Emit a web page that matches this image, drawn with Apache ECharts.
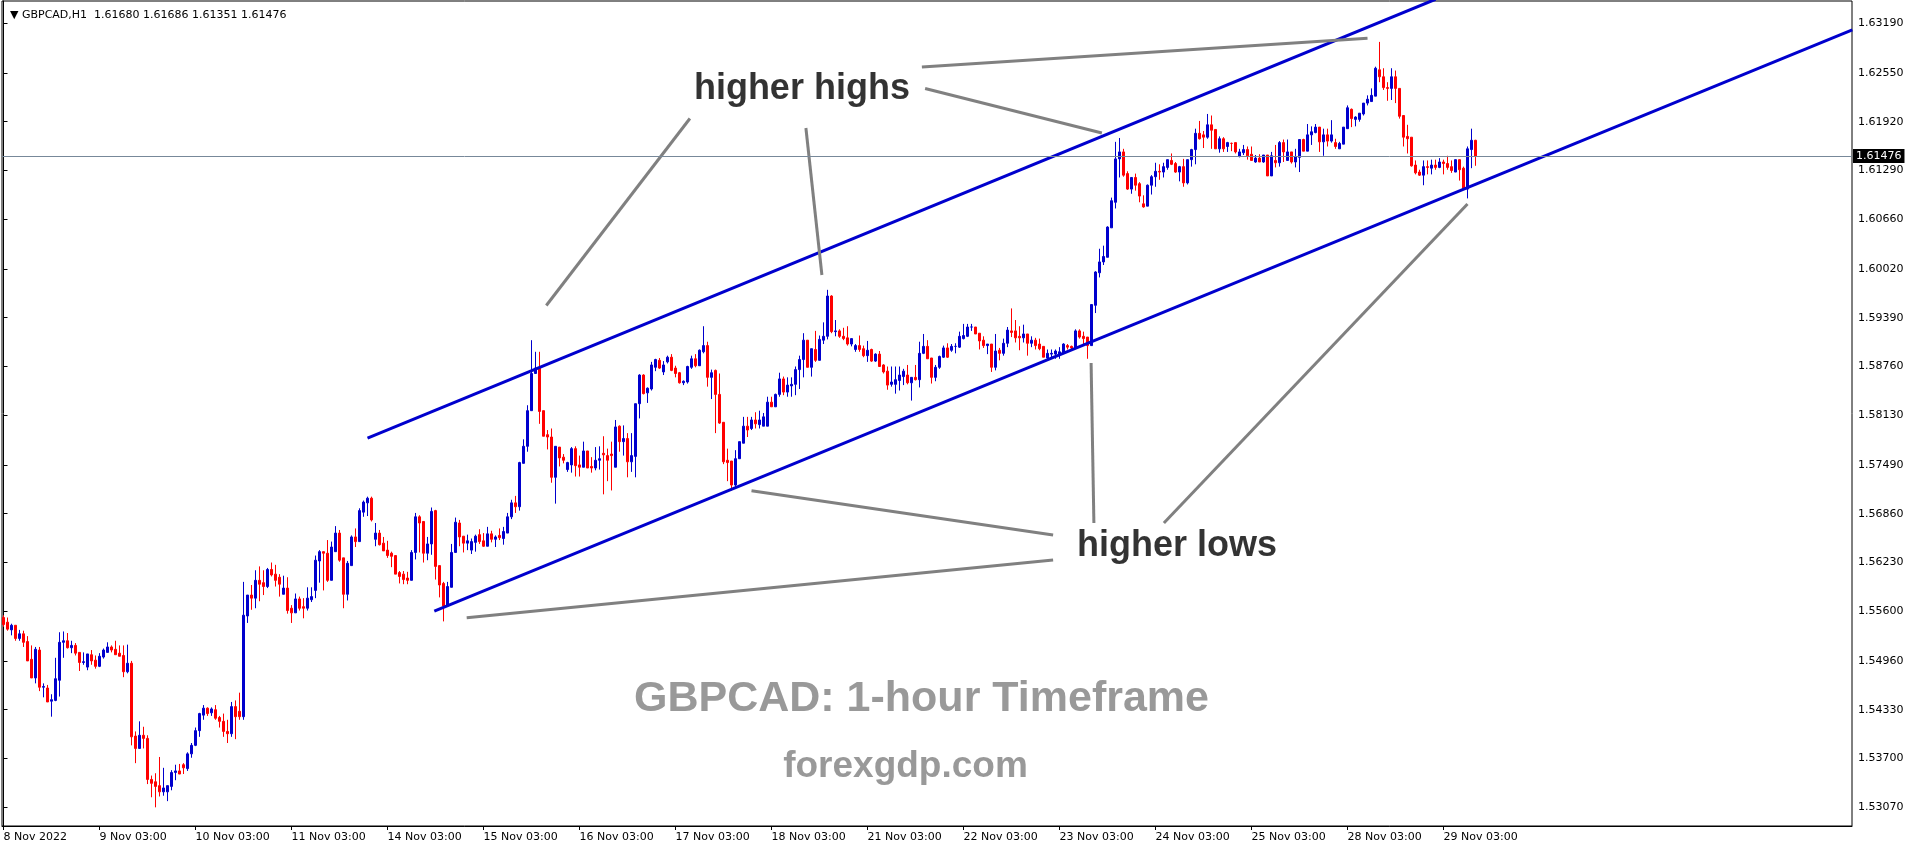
<!DOCTYPE html>
<html><head><meta charset="utf-8">
<script src="https://cdn.jsdelivr.net/npm/echarts@6/dist/echarts.min.js"></script>
<style>html,body{margin:0;padding:0;background:#fff;}#c{width:1916px;height:850px;}</style>
</head><body><div id="c"></div>
<script>
const symbolInfo = 'GBPCAD,H1';
const xTickLabels = ['8 Nov 2022','9 Nov 03:00','10 Nov 03:00','11 Nov 03:00','14 Nov 03:00','15 Nov 03:00','16 Nov 03:00','17 Nov 03:00','18 Nov 03:00','21 Nov 03:00','22 Nov 03:00','23 Nov 03:00','24 Nov 03:00','25 Nov 03:00','28 Nov 03:00','29 Nov 03:00'];
const barsPerDay = 24;
const yTickValues = [1.53070,1.53700,1.54330,1.54960,1.55600,1.56230,1.56860,1.57490,1.58130,1.58760,1.59390,1.60020,1.60660,1.61290,1.61920,1.62550,1.63190];
// hourly candles: [open, close, low, high]
const ohlc = [
[1.5552,1.5543,1.5540,1.5555],[1.5546,1.5537,1.5535,1.5552],[1.5536,1.5542,1.5529,1.5544],[1.5542,1.5525,1.5522,1.5542],[1.5525,1.5531,1.5522,1.5536],
[1.5531,1.5520,1.5514,1.5535],[1.5521,1.5496,1.5496,1.5528],[1.5498,1.5474,1.5474,1.5516],[1.5474,1.5511,1.5467,1.5514],[1.5510,1.5462,1.5457,1.5514],
[1.5462,1.5463,1.5449,1.5467],[1.5461,1.5443,1.5443,1.5465],[1.5444,1.5446,1.5424,1.5453],[1.5445,1.5473,1.5444,1.5500],[1.5471,1.5520,1.5450,1.5533],
[1.5520,1.5522,1.5500,1.5534],[1.5522,1.5513,1.5512,1.5532],[1.5513,1.5516,1.5506,1.5522],[1.5516,1.5506,1.5503,1.5519],[1.5507,1.5494,1.5483,1.5507],
[1.5494,1.5495,1.5491,1.5507],[1.5488,1.5505,1.5484,1.5505],[1.5504,1.5496,1.5491,1.5510],[1.5497,1.5489,1.5486,1.5503],[1.5489,1.5502,1.5488,1.5506],
[1.5501,1.5510,1.5499,1.5512],[1.5507,1.5514,1.5507,1.5520],[1.5514,1.5510,1.5507,1.5516],[1.5511,1.5504,1.5504,1.5522],[1.5506,1.5502,1.5502,1.5516],
[1.5503,1.5482,1.5475,1.5516],[1.5482,1.5493,1.5480,1.5517],[1.5493,1.5398,1.5387,1.5496],[1.5399,1.5383,1.5364,1.5405],[1.5383,1.5400,1.5383,1.5418],
[1.5400,1.5396,1.5383,1.5411],[1.5396,1.5343,1.5337,1.5400],[1.5343,1.5338,1.5320,1.5348],[1.5340,1.5334,1.5307,1.5351],[1.5335,1.5327,1.5321,1.5372],
[1.5327,1.5332,1.5322,1.5358],[1.5327,1.5335,1.5315,1.5335],[1.5334,1.5352,1.5329,1.5355],[1.5352,1.5354,1.5342,1.5362],[1.5354,1.5350,1.5350,1.5363],
[1.5362,1.5358,1.5350,1.5364],[1.5357,1.5376,1.5354,1.5378],[1.5376,1.5387,1.5371,1.5390],[1.5387,1.5406,1.5386,1.5410],[1.5406,1.5428,1.5398,1.5429],
[1.5426,1.5435,1.5420,1.5439],[1.5435,1.5428,1.5425,1.5436],[1.5429,1.5434,1.5425,1.5436],[1.5433,1.5422,1.5420,1.5439],[1.5423,1.5418,1.5410,1.5425],
[1.5418,1.5405,1.5398,1.5428],[1.5405,1.5402,1.5390,1.5420],[1.5402,1.5437,1.5398,1.5443],[1.5437,1.5424,1.5395,1.5445],[1.5431,1.5424,1.5420,1.5455],
[1.5424,1.5555,1.5420,1.5598],[1.5554,1.5581,1.5545,1.5581],[1.5581,1.5577,1.5562,1.5594],[1.5577,1.5600,1.5564,1.5613],[1.5600,1.5595,1.5573,1.5618],
[1.5597,1.5592,1.5581,1.5613],[1.5592,1.5614,1.5590,1.5616],[1.5614,1.5607,1.5605,1.5623],[1.5608,1.5600,1.5592,1.5620],[1.5604,1.5595,1.5579,1.5608],
[1.5582,1.5590,1.5582,1.5606],[1.5590,1.5561,1.5557,1.5604],[1.5564,1.5558,1.5545,1.5568],[1.5558,1.5576,1.5558,1.5583],[1.5576,1.5564,1.5561,1.5579],
[1.5566,1.5564,1.5551,1.5577],[1.5564,1.5577,1.5561,1.5591],[1.5575,1.5579,1.5572,1.5591],[1.5587,1.5626,1.5577,1.5632],[1.5625,1.5637,1.5597,1.5639],
[1.5637,1.5635,1.5587,1.5637],[1.5635,1.5600,1.5598,1.5652],[1.5600,1.5643,1.5600,1.5650],[1.5637,1.5661,1.5637,1.5670],[1.5661,1.5626,1.5624,1.5665],
[1.5629,1.5582,1.5564,1.5629],[1.5582,1.5622,1.5574,1.5625],[1.5619,1.5656,1.5619,1.5658],[1.5656,1.5650,1.5643,1.5667],[1.5650,1.5690,1.5650,1.5693],
[1.5688,1.5701,1.5682,1.5703],[1.5700,1.5706,1.5683,1.5708],[1.5706,1.5678,1.5676,1.5708],[1.5653,1.5661,1.5644,1.5674],[1.5661,1.5646,1.5645,1.5665],
[1.5648,1.5638,1.5638,1.5656],[1.5639,1.5632,1.5629,1.5651],[1.5635,1.5631,1.5617,1.5637],[1.5632,1.5608,1.5608,1.5632],[1.5610,1.5605,1.5596,1.5612],
[1.5608,1.5601,1.5595,1.5612],[1.5603,1.5600,1.5595,1.5611],[1.5600,1.5636,1.5600,1.5639],[1.5636,1.5682,1.5627,1.5687],[1.5682,1.5674,1.5636,1.5684],
[1.5676,1.5635,1.5623,1.5676],[1.5635,1.5647,1.5626,1.5656],[1.5647,1.5689,1.5633,1.5694],[1.5690,1.5618,1.5601,1.5691],[1.5619,1.5594,1.5578,1.5619],
[1.5596,1.5567,1.5547,1.5598],[1.5567,1.5592,1.5567,1.5598],[1.5591,1.5636,1.5591,1.5647],[1.5636,1.5675,1.5636,1.5681],[1.5674,1.5656,1.5644,1.5678],
[1.5657,1.5648,1.5636,1.5657],[1.5648,1.5651,1.5639,1.5659],[1.5639,1.5650,1.5634,1.5654],[1.5649,1.5657,1.5637,1.5659],[1.5659,1.5650,1.5647,1.5666],
[1.5651,1.5644,1.5643,1.5661],[1.5644,1.5660,1.5644,1.5669],[1.5660,1.5653,1.5649,1.5664],[1.5653,1.5656,1.5643,1.5658],[1.5658,1.5655,1.5652,1.5667],
[1.5654,1.5663,1.5646,1.5669],[1.5661,1.5682,1.5661,1.5687],[1.5682,1.5700,1.5679,1.5704],[1.5700,1.5695,1.5687,1.5709],[1.5695,1.5752,1.5690,1.5753],
[1.5751,1.5773,1.5751,1.5782],[1.5773,1.5819,1.5766,1.5826],[1.5819,1.5867,1.5819,1.5910],[1.5867,1.5874,1.5867,1.5895],[1.5874,1.5818,1.5802,1.5895],
[1.5819,1.5786,1.5786,1.5819],[1.5788,1.5785,1.5769,1.5794],[1.5785,1.5733,1.5726,1.5796],[1.5733,1.5773,1.5699,1.5773],[1.5772,1.5758,1.5747,1.5772],
[1.5759,1.5755,1.5751,1.5763],[1.5743,1.5752,1.5740,1.5753],[1.5749,1.5770,1.5739,1.5772],[1.5770,1.5748,1.5734,1.5773],[1.5749,1.5746,1.5734,1.5761],
[1.5746,1.5767,1.5746,1.5779],[1.5767,1.5745,1.5745,1.5767],[1.5747,1.5745,1.5739,1.5759],[1.5745,1.5755,1.5742,1.5772],[1.5755,1.5757,1.5743,1.5773],
[1.5764,1.5762,1.5711,1.5786],[1.5761,1.5755,1.5728,1.5770],[1.5763,1.5761,1.5716,1.5779],[1.5746,1.5798,1.5746,1.5807],[1.5799,1.5779,1.5766,1.5800],
[1.5779,1.5783,1.5761,1.5800],[1.5783,1.5753,1.5733,1.5790],[1.5753,1.5761,1.5740,1.5790],[1.5760,1.5828,1.5733,1.5828],[1.5828,1.5865,1.5809,1.5866],
[1.5865,1.5841,1.5840,1.5866],[1.5842,1.5848,1.5829,1.5849],[1.5847,1.5878,1.5845,1.5882],[1.5875,1.5885,1.5870,1.5886],[1.5884,1.5874,1.5873,1.5887],
[1.5869,1.5878,1.5865,1.5883],[1.5882,1.5888,1.5880,1.5890],[1.5888,1.5871,1.5870,1.5892],[1.5874,1.5867,1.5862,1.5877],[1.5868,1.5855,1.5854,1.5869],
[1.5855,1.5857,1.5852,1.5858],[1.5856,1.5876,1.5854,1.5877],[1.5875,1.5886,1.5873,1.5890],[1.5886,1.5877,1.5875,1.5892],[1.5877,1.5897,1.5877,1.5898],
[1.5895,1.5903,1.5893,1.5928],[1.5903,1.5862,1.5850,1.5908],[1.5862,1.5868,1.5834,1.5872],[1.5871,1.5840,1.5790,1.5872],[1.5840,1.5803,1.5802,1.5867],
[1.5804,1.5753,1.5750,1.5804],[1.5755,1.5752,1.5728,1.5770],[1.5754,1.5723,1.5716,1.5754],[1.5723,1.5757,1.5720,1.5768],[1.5757,1.5779,1.5757,1.5779],
[1.5777,1.5799,1.5777,1.5811],[1.5799,1.5794,1.5785,1.5811],[1.5796,1.5807,1.5794,1.5811],[1.5807,1.5802,1.5796,1.5817],[1.5801,1.5807,1.5796,1.5819],
[1.5799,1.5811,1.5799,1.5816],[1.5799,1.5830,1.5799,1.5837],[1.5830,1.5824,1.5824,1.5837],[1.5824,1.5840,1.5824,1.5841],[1.5840,1.5860,1.5837,1.5868],
[1.5860,1.5843,1.5839,1.5863],[1.5843,1.5852,1.5837,1.5862],[1.5851,1.5853,1.5837,1.5862],[1.5853,1.5872,1.5839,1.5876],[1.5872,1.5885,1.5847,1.5890],
[1.5885,1.5910,1.5862,1.5919],[1.5910,1.5875,1.5875,1.5910],[1.5875,1.5899,1.5863,1.5899],[1.5898,1.5884,1.5882,1.5922],[1.5884,1.5911,1.5884,1.5916],
[1.5910,1.5915,1.5905,1.5933],[1.5915,1.5967,1.5911,1.5975],[1.5967,1.5921,1.5919,1.5968],[1.5921,1.5922,1.5915,1.5936],[1.5922,1.5915,1.5913,1.5924],
[1.5915,1.5912,1.5910,1.5926],[1.5913,1.5905,1.5903,1.5928],[1.5905,1.5912,1.5902,1.5912],[1.5898,1.5903,1.5895,1.5905],[1.5903,1.5898,1.5895,1.5916],
[1.5899,1.5890,1.5888,1.5903],[1.5890,1.5897,1.5882,1.5909],[1.5898,1.5883,1.5882,1.5899],[1.5883,1.5892,1.5882,1.5893],[1.5892,1.5876,1.5876,1.5896],
[1.5878,1.5869,1.5867,1.5879],[1.5870,1.5852,1.5846,1.5876],[1.5853,1.5856,1.5850,1.5876],[1.5853,1.5859,1.5841,1.5876],[1.5858,1.5865,1.5845,1.5876],
[1.5863,1.5870,1.5852,1.5873],[1.5865,1.5855,1.5853,1.5878],[1.5855,1.5862,1.5832,1.5862],[1.5862,1.5859,1.5858,1.5878],[1.5859,1.5893,1.5849,1.5908],
[1.5893,1.5902,1.5892,1.5918],[1.5902,1.5886,1.5886,1.5910],[1.5887,1.5862,1.5854,1.5887],[1.5862,1.5875,1.5857,1.5878],[1.5875,1.5889,1.5873,1.5890],
[1.5888,1.5900,1.5887,1.5903],[1.5900,1.5888,1.5887,1.5906],[1.5897,1.5902,1.5895,1.5905],[1.5902,1.5902,1.5893,1.5906],[1.5901,1.5915,1.5900,1.5921],
[1.5912,1.5916,1.5911,1.5931],[1.5915,1.5927,1.5914,1.5931],[1.5927,1.5927,1.5922,1.5931],[1.5927,1.5918,1.5918,1.5927],[1.5919,1.5909,1.5898,1.5919],
[1.5910,1.5903,1.5900,1.5915],[1.5903,1.5905,1.5892,1.5905],[1.5905,1.5875,1.5869,1.5905],[1.5875,1.5896,1.5871,1.5918],[1.5897,1.5893,1.5884,1.5900],
[1.5893,1.5906,1.5890,1.5912],[1.5906,1.5923,1.5901,1.5927],[1.5922,1.5920,1.5914,1.5951],[1.5922,1.5913,1.5907,1.5936],[1.5915,1.5913,1.5897,1.5928],
[1.5913,1.5918,1.5907,1.5930],[1.5918,1.5906,1.5890,1.5918],[1.5906,1.5910,1.5901,1.5915],[1.5910,1.5903,1.5898,1.5913],[1.5905,1.5899,1.5897,1.5912],
[1.5902,1.5888,1.5888,1.5902],[1.5887,1.5893,1.5884,1.5898],[1.5892,1.5893,1.5886,1.5898],[1.5892,1.5896,1.5886,1.5898],[1.5891,1.5895,1.5886,1.5901],
[1.5893,1.5905,1.5892,1.5906],[1.5903,1.5901,1.5898,1.5905],[1.5902,1.5900,1.5897,1.5903],[1.5900,1.5922,1.5900,1.5924],[1.5922,1.5914,1.5912,1.5924],
[1.5915,1.5912,1.5905,1.5921],[1.5914,1.5903,1.5886,1.5914],[1.5903,1.5956,1.5903,1.5956],[1.5955,1.5998,1.5945,1.5999],[1.5997,1.6011,1.5991,1.6028],
[1.6011,1.6018,1.6007,1.6032],[1.6017,1.6056,1.6017,1.6057],[1.6055,1.6090,1.6055,1.6094],[1.6088,1.6144,1.6080,1.6166],[1.6144,1.6153,1.6120,1.6171],
[1.6153,1.6123,1.6121,1.6157],[1.6125,1.6105,1.6104,1.6128],[1.6105,1.6120,1.6099,1.6120],[1.6120,1.6110,1.6103,1.6125],[1.6112,1.6096,1.6088,1.6114],
[1.6086,1.6082,1.6081,1.6097],[1.6083,1.6110,1.6083,1.6111],[1.6110,1.6121,1.6098,1.6123],[1.6121,1.6128,1.6108,1.6139],[1.6128,1.6127,1.6117,1.6137],
[1.6127,1.6134,1.6120,1.6139],[1.6133,1.6143,1.6130,1.6143],[1.6142,1.6137,1.6136,1.6151],[1.6138,1.6127,1.6126,1.6140],[1.6127,1.6134,1.6115,1.6135],
[1.6134,1.6113,1.6108,1.6144],[1.6113,1.6143,1.6111,1.6143],[1.6143,1.6156,1.6134,1.6157],[1.6156,1.6177,1.6137,1.6183],[1.6177,1.6170,1.6169,1.6193],
[1.6175,1.6172,1.6158,1.6180],[1.6172,1.6188,1.6170,1.6202],[1.6188,1.6181,1.6157,1.6200],[1.6182,1.6157,1.6157,1.6182],[1.6157,1.6170,1.6152,1.6173],
[1.6170,1.6157,1.6153,1.6172],[1.6160,1.6165,1.6153,1.6166],[1.6164,1.6164,1.6154,1.6165],[1.6165,1.6153,1.6151,1.6165],[1.6147,1.6153,1.6146,1.6157],
[1.6152,1.6156,1.6149,1.6162],[1.6156,1.6148,1.6143,1.6160],[1.6150,1.6142,1.6142,1.6160],[1.6140,1.6145,1.6139,1.6149],[1.6145,1.6140,1.6140,1.6150],
[1.6140,1.6149,1.6139,1.6149],[1.6149,1.6122,1.6122,1.6149],[1.6122,1.6148,1.6122,1.6153],[1.6142,1.6139,1.6133,1.6162],[1.6139,1.6165,1.6134,1.6167],
[1.6165,1.6153,1.6140,1.6169],[1.6142,1.6153,1.6142,1.6169],[1.6153,1.6140,1.6138,1.6153],[1.6140,1.6147,1.6133,1.6157],[1.6146,1.6169,1.6127,1.6169],
[1.6169,1.6154,1.6154,1.6170],[1.6154,1.6175,1.6154,1.6189],[1.6175,1.6179,1.6162,1.6186],[1.6178,1.6185,1.6177,1.6189],[1.6185,1.6166,1.6153,1.6185],
[1.6166,1.6175,1.6148,1.6183],[1.6175,1.6167,1.6160,1.6183],[1.6167,1.6175,1.6165,1.6194],[1.6165,1.6160,1.6157,1.6170],[1.6157,1.6164,1.6157,1.6166],
[1.6163,1.6185,1.6163,1.6185],[1.6183,1.6210,1.6183,1.6213],[1.6208,1.6196,1.6185,1.6209],[1.6195,1.6198,1.6186,1.6199],[1.6195,1.6203,1.6192,1.6203],
[1.6202,1.6216,1.6200,1.6216],[1.6216,1.6221,1.6213,1.6226],[1.6218,1.6226,1.6218,1.6235],[1.6225,1.6261,1.6225,1.6263],[1.6259,1.6250,1.6243,1.6295],
[1.6250,1.6236,1.6233,1.6261],[1.6236,1.6235,1.6219,1.6243],[1.6235,1.6250,1.6220,1.6261],[1.6250,1.6235,1.6216,1.6258],[1.6235,1.6199,1.6196,1.6235],
[1.6200,1.6172,1.6160,1.6200],[1.6173,1.6170,1.6151,1.6188],[1.6172,1.6135,1.6134,1.6172],[1.6136,1.6126,1.6124,1.6142],[1.6127,1.6123,1.6122,1.6130],
[1.6123,1.6134,1.6110,1.6142],[1.6134,1.6133,1.6124,1.6142],[1.6132,1.6136,1.6124,1.6143],[1.6136,1.6133,1.6130,1.6143],[1.6133,1.6140,1.6132,1.6145],
[1.6140,1.6138,1.6124,1.6143],[1.6138,1.6133,1.6130,1.6148],[1.6134,1.6129,1.6126,1.6142],[1.6127,1.6143,1.6127,1.6143],[1.6143,1.6130,1.6116,1.6143],
[1.6132,1.6105,1.6104,1.6134],[1.6105,1.6157,1.6093,1.6160],[1.6156,1.6168,1.6132,1.6183],[1.61680,1.61476,1.61351,1.61686]
];
// trend channel lines, as [bar index, price] end points
const channelLines = [
  [[91.0, 1.57837], [358.0, 1.63500]],
  [[107.7, 1.55604], [462.2, 1.63104]]
];
// grey pointer lines from the captions, as [bar index, price] end points
const pointerLines = [
  [[171.6, 1.61961], [135.7, 1.59548]],
  [[200.6, 1.61839], [204.6, 1.59941]],
  [[230.4, 1.62348], [274.6, 1.61774]],
  [[229.6, 1.62626], [341.0, 1.62996]],
  [[262.4, 1.56585], [187.0, 1.57157]],
  [[262.4, 1.56262], [115.8, 1.55517]],
  [[271.9, 1.58805], [272.6, 1.56740]],
  [[290.1, 1.56740], [366.0, 1.60858]]
];
const captionTexts = ['higher highs', 'higher lows'];
const captionAnchors = [[199.6, 1.62340], [293.4, 1.56443]];
const watermarkTexts = ['GBPCAD: 1-hour Timeframe', 'forexgdp.com'];
const watermarkAnchors = [[229.5, 1.54468], [225.5, 1.53590]];

const FONT = 'DejaVu Sans';
const chart = echarts.init(document.getElementById('c'), null, {renderer: 'canvas', width: 1916, height: 850});
const candleData = ohlc.map((r, i) => [i, r[0], r[1], r[2], r[3]]);
const last = ohlc[ohlc.length - 1];
const header = '\u25BC ' + symbolInfo + '  ' + [last[0], last[3], last[2], last[1]].map(v => v.toFixed(5)).join(' ');
const xTickValues = xTickLabels.map((_, k) => k * barsPerDay);

const series = [];
series.push({
  type: 'candlestick', data: candleData, encode: {x: 0, y: [1, 2, 3, 4]}, barWidth: 2, z: 2,
  itemStyle: {color: '#0000CD', color0: '#FF0000', borderColor: '#0000CD', borderColor0: '#FF0000', borderWidth: 1},
  markLine: {
    silent: true, symbol: ['none', 'none'], animation: false, precision: 5,
    data: [{yAxis: last[1]}],
    lineStyle: {color: '#778899', width: 1, type: 'solid'},
    label: {position: 'end', distance: 1, formatter: () => last[1].toFixed(5), backgroundColor: '#000', color: '#fff',
            fontFamily: FONT, fontSize: 11, padding: [2, 3, 1, 3]}
  }
});
channelLines.forEach(seg => series.push({type: 'line', data: seg, symbol: 'none', silent: true, z: 3,
  lineStyle: {color: '#0000CD', width: 3}}));
pointerLines.forEach(seg => series.push({type: 'line', data: seg, symbol: 'none', silent: true, z: 3,
  lineStyle: {color: '#808080', width: 3}}));
series.push({type: 'scatter', symbolSize: 0, silent: true, z: 5,
  data: captionTexts.map((t, i) => ({value: captionAnchors[i], label: {show: true, position: 'inside', formatter: t,
    color: '#000', fontSize: 36, fontWeight: 'bold', fontFamily: 'Liberation Sans'}}))});
const wmSizes = [43, 37];
series.push({type: 'scatter', symbolSize: 0, silent: true, z: 5,
  data: watermarkTexts.map((t, i) => ({value: watermarkAnchors[i], label: {show: true, position: 'inside', formatter: t,
    color: '#808080', fontSize: wmSizes[i], fontWeight: 'bold', fontFamily: 'Liberation Sans'}}))});

chart.setOption({
  animation: false,
  backgroundColor: '#fff',
  title: {text: header, left: 5, top: 5, textStyle: {fontFamily: FONT, fontSize: 11, fontWeight: 'normal', color: '#000'}},
  grid: {left: 2, top: 1, width: 1850, height: 825, show: true, borderColor: '#000', borderWidth: 1, backgroundColor: '#fff'},
  xAxis: {
    type: 'value', min: -0.375, max: 462.125, splitLine: {show: false},
    axisLine: {show: true, lineStyle: {color: '#000', width: 1}},
    axisTick: {show: true, customValues: xTickValues, length: 4, lineStyle: {color: '#000'}},
    axisLabel: {customValues: xTickValues, formatter: v => xTickLabels[Math.round(v / barsPerDay)] || '',
      align: 'left', margin: 6, fontFamily: FONT, fontSize: 11, color: '#000'}
  },
  yAxis: {
    type: 'value', position: 'right', min: 1.52829, max: 1.63478, scale: true, splitLine: {show: false},
    axisLine: {show: true, lineStyle: {color: '#000', width: 1}},
    axisTick: {show: true, customValues: yTickValues, length: 4, lineStyle: {color: '#000'}},
    axisLabel: {customValues: yTickValues, formatter: v => v.toFixed(5), margin: 6, fontFamily: FONT, fontSize: 11, color: '#000'}
  },
  series: series
});
</script>
</body></html>
